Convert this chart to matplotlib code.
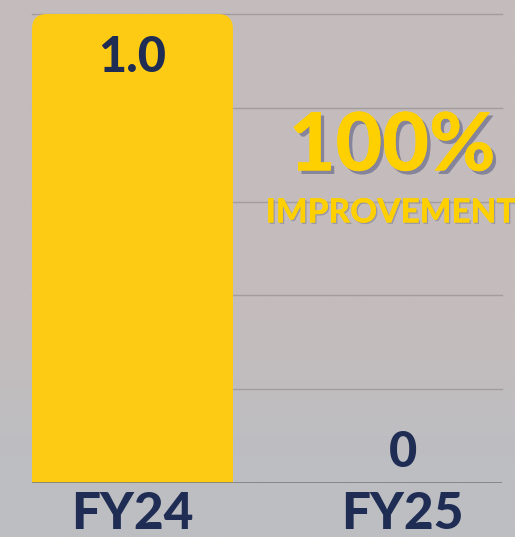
import numpy as np
import matplotlib.pyplot as plt
import matplotlib.patheffects as pe
from matplotlib.patches import FancyBboxPatch, Rectangle

# data
categories = ['FY24', 'FY25']
values = [1.0, 0]
value_labels = ['1.0', '0']
headline = '100%'
subline = 'IMPROVEMENT'

YELLOW = '#fdcb14'
NAVY = '#1f2d54'
GRID = '#a39d9d'

plt.rcParams['font.family'] = ['Lato', 'DejaVu Sans']

fig = plt.figure(figsize=(5.15, 5.37), dpi=100)

# background gradient (pinkish grey to cooler grey at bottom)
bg = fig.add_axes([0, 0, 1, 1], zorder=-10)
top = np.array([196, 188, 188]) / 255
bot = np.array([189, 190, 194]) / 255
t = np.linspace(0, 1, 256)[:, None]
t = np.clip((t - 0.6) / 0.25, 0, 1)
grad = top[None, :] * (1 - t) + bot[None, :] * t
bg.imshow(grad[:, None, :].repeat(2, axis=1), aspect='auto', extent=[0, 1, 0, 1])
bg.axis('off')

ax = fig.add_axes([32 / 515, 1 - 483 / 537, 470 / 515, 469 / 537])
ax.patch.set_alpha(0)
x = np.arange(len(categories))
bar_w = 0.744
bars = ax.bar(x, values, width=bar_w, color='none', zorder=3)

ax.set_xlim(-0.372, 1.368)
ax.set_ylim(0, 1.0)

# rounded top corners only
px_x, px_y = 270.0, 469.0
r_px = 15
for b in bars:
    h = b.get_height()
    if h <= 0:
        continue
    bx, bw = b.get_x(), b.get_width()
    rs = r_px / px_x
    ax.add_patch(FancyBboxPatch((bx, 0), bw, h,
                                boxstyle=f'round,pad=0,rounding_size={rs}',
                                mutation_aspect=px_x / px_y,
                                fc=YELLOW, ec='none', zorder=3, clip_on=False))
    ax.add_patch(Rectangle((bx, 0), bw, h / 2, fc=YELLOW, ec='none', zorder=3))

for yv in np.arange(0.2, 1.01, 0.2):
    ax.axhline(yv, color=GRID, lw=1, zorder=1, clip_on=False)
ax.axhline(0, color='#7c7c80', lw=1.2, zorder=4)

for s in ax.spines.values():
    s.set_visible(False)
ax.set_yticks([])
ax.set_xticks(x)
ax.set_xticklabels(categories, fontsize=37, fontweight='black', color=NAVY)
ax.tick_params(axis='x', length=0, pad=6)

# value labels
for xi, v, lab in zip(x, values, value_labels):
    if v > 0:
        ax.text(xi, v - 0.045, lab, ha='center', va='top', fontsize=35,
                fontweight='black', color=NAVY, zorder=5)
    else:
        ax.text(xi, v + 0.016, lab, ha='center', va='bottom', fontsize=35,
                fontweight='black', color=NAVY, zorder=5)

shadow = [pe.withSimplePatchShadow(offset=(2.5, -2.5), shadow_rgbFace='#85849a', alpha=1), pe.Normal()]
fig.text(392 / 515, 1 - 147 / 537, headline, ha='center', va='center', fontsize=58,
         fontweight='black', color='#fed000', path_effects=shadow)
fig.text(391 / 515, 1 - 213 / 537, subline, ha='center', va='center', fontsize=24,
         fontweight='black', color='#fed000',
         path_effects=[pe.withSimplePatchShadow(offset=(1, -1), shadow_rgbFace='#9a98a8', alpha=1), pe.Normal()])

fig.savefig('out.png', dpi=100)
